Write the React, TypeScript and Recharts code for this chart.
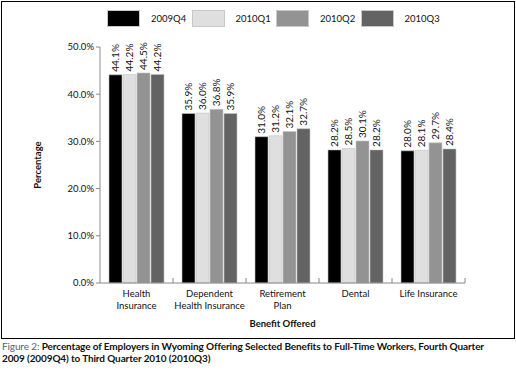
import React from "react";
import { BarChart, Bar, XAxis, YAxis, Legend, LabelList, Label } from "recharts";

const benefits = ["Health\nInsurance", "Dependent\nHealth Insurance", "Retirement\nPlan", "Dental", "Life Insurance"];
const q2009Q4 = [44.1, 35.9, 31.0, 28.2, 28.0];
const q2010Q1 = [44.2, 36.0, 31.2, 28.5, 28.1];
const q2010Q2 = [44.5, 36.8, 32.1, 30.1, 29.7];
const q2010Q3 = [44.2, 35.9, 32.7, 28.2, 28.4];
const yTicks = [0, 10, 20, 30, 40, 50];

const seriesDefs = [
  { key: "2009Q4", color: "#000000" },
  { key: "2010Q1", color: "#dfdfdf" },
  { key: "2010Q2", color: "#939393" },
  { key: "2010Q3", color: "#636363" },
];

const data = benefits.map((name, i) => ({
  name,
  "2009Q4": q2009Q4[i],
  "2010Q1": q2010Q1[i],
  "2010Q2": q2010Q2[i],
  "2010Q3": q2010Q3[i],
}));

const FONT = "Lato, 'Open Sans', sans-serif";

function BarValue(props: any) {
  const { x, y, width, value } = props;
  const cx = x + width / 2 + 3.5;
  const ty = y - 3;
  return (
    <text x={cx} y={ty} transform={`rotate(-90 ${cx} ${ty})`} fontSize={10} fontFamily={FONT} fill="#111" textAnchor="start">
      {value.toFixed(1)}%
    </text>
  );
}

function CategoryTick(props: any) {
  const { x, y, payload, width, visibleTicksCount } = props;
  const band = width / visibleTicksCount;
  const lines = String(payload.value).split("\n");
  return (
    <g>
      <line x1={x + band / 2} x2={x + band / 2} y1={y} y2={y - 5} stroke="#888" strokeWidth={1} />
      {lines.map((l, i) => (
        <text key={i} x={x} y={y + 14 + i * 11.5} textAnchor="middle" fontSize={9.5} fontFamily={FONT} fill="#111">
          {l}
        </text>
      ))}
    </g>
  );
}

function LegendBox() {
  return (
    <div style={{ height: 39, position: "relative", fontFamily: FONT, fontSize: 9.5 }}>
      {seriesDefs.map((s, i) => (
        <div key={s.key} style={{ position: "absolute", left: 107 + i * 84.5, top: 2, display: "flex", alignItems: "center" }}>
          <div style={{ width: 33, height: 17, background: s.color, boxSizing: "border-box", border: "1px solid #c8c8c8" }} />
          <span style={{ marginLeft: 11, color: "#111" }}>{s.key}</span>
        </div>
      ))}
    </div>
  );
}

export default function App() {
  return (
    <div style={{ position: "absolute", left: 0, top: 0, width: 516, height: 371, background: "#fff" }}>
      <div style={{ position: "absolute", left: 1, top: 1, width: 514, height: 338, border: "1px solid #000", boxSizing: "border-box" }} />
      <BarChart
        width={516}
        height={340}
        data={data}
        margin={{ top: 8, right: 51, bottom: 12, left: 0 }}
        barCategoryGap={9}
        barGap={1}
      >
        <Legend verticalAlign="top" content={() => <LegendBox />} wrapperStyle={{ left: 0, width: 516 }} />
        <XAxis
          dataKey="name"
          interval={0}
          height={45}
          tickSize={0}
          tickMargin={0}
          tickLine={false}
          axisLine={{ stroke: "#888" }}
          tick={<CategoryTick />}
        >
          <Label value="Benefit Offered" position="insideBottom" offset={1} fontSize={9.5} fontWeight="bold" fontFamily={FONT} fill="#111" />
        </XAxis>
        <YAxis
          width={100}
          domain={[0, 50]}
          ticks={yTicks}
          interval={0}
          tickSize={4}
          tickMargin={2}
          tickLine={{ stroke: "#888" }}
          axisLine={{ stroke: "#888" }}
          tickFormatter={(v: number) => `${v.toFixed(1)}%`}
          tick={{ fontSize: 9.5, fontFamily: FONT, fill: "#111" }}
        >
          <Label
            content={(p: any) => {
              const vb = p.viewBox;
              const cx = 41;
              const cy = vb.y + vb.height / 2;
              return (
                <text x={cx} y={cy} transform={`rotate(-90 ${cx} ${cy})`} textAnchor="middle" fontSize={9.5} fontWeight="bold" fontFamily={FONT} fill="#111">
                  Percentage
                </text>
              );
            }}
          />
        </YAxis>
        {seriesDefs.map((s) => (
          <Bar key={s.key} dataKey={s.key} fill={s.color} stroke="#c4c4c4" strokeWidth={0.6} isAnimationActive={false}>
            <LabelList dataKey={s.key} content={<BarValue />} />
          </Bar>
        ))}
      </BarChart>
      <div style={{ position: "absolute", left: 2, top: 341, width: 512, fontFamily: FONT, fontSize: 10, lineHeight: "11.5px", letterSpacing: -0.12, color: "#111" }}>
        <span style={{ color: "#4f6478" }}>Figure 2: </span>
        <b>Percentage of Employers in Wyoming Offering Selected Benefits to Full-Time Workers, Fourth Quarter</b>
        <br />
        <b>2009 (2009Q4) to Third Quarter 2010 (2010Q3)</b>
      </div>
    </div>
  );
}
